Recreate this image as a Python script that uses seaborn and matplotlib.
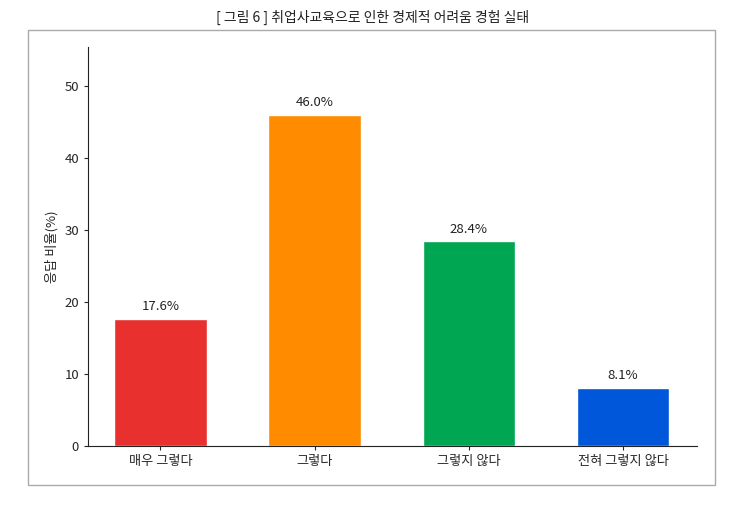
import matplotlib
matplotlib.use("Agg")
import matplotlib.pyplot as plt
import seaborn as sns
import pandas as pd

categories = ["매우 그렇다", "그렇다", "그렇지 않다", "전혀 그렇지 않다"]
values = [17.6, 46.0, 28.4, 8.1]
colors = ["#E8302F", "#FF8C00", "#00A651", "#0057D9"]

sns.set_style("white")
plt.rcParams["font.family"] = ["Noto Sans CJK KR", "DejaVu Sans"]

df = pd.DataFrame({"cat": categories, "val": values})

fig = plt.figure(figsize=(7.45, 5.2), dpi=100)
# outer frame box
frame = plt.Rectangle((28 / 745, 1 - 485 / 520), (715 - 28) / 745, (485 - 30) / 520,
                      transform=fig.transFigure, fill=False, edgecolor="#aaaaaa", linewidth=1)
fig.patches.append(frame)
fig.text(0.5, 1 - 17 / 520, "[ 그림 6 ] 취업사교육으로 인한 경제적 어려움 경험 실태",
         ha="center", va="center", fontsize=10, color="#222222")

ax = fig.add_axes([88 / 745, 1 - 446 / 520, (697 - 88) / 745, (446 - 47) / 520])
sns.barplot(data=df, x="cat", y="val", hue="cat", palette=colors, legend=False,
            width=0.6, saturation=1, ax=ax)
for i, v in enumerate(values):
    ax.text(i, v + 0.8, f"{v:.1f}%", ha="center", va="bottom", fontsize=9.5, color="#222222")

ax.set_xlim(-0.47, 3.48)
ax.set_ylim(0, 55.4)
ax.set_yticks([0, 10, 20, 30, 40, 50])
ax.set_xlabel("")
ax.set_ylabel("응답 비율(%)", fontsize=9.5)
ax.tick_params(axis="both", labelsize=9.5, length=3, left=True, bottom=True)
sns.despine(ax=ax)
ax.spines["left"].set_color("#222222")
ax.spines["bottom"].set_color("#222222")

fig.savefig("out.png", dpi=100)
